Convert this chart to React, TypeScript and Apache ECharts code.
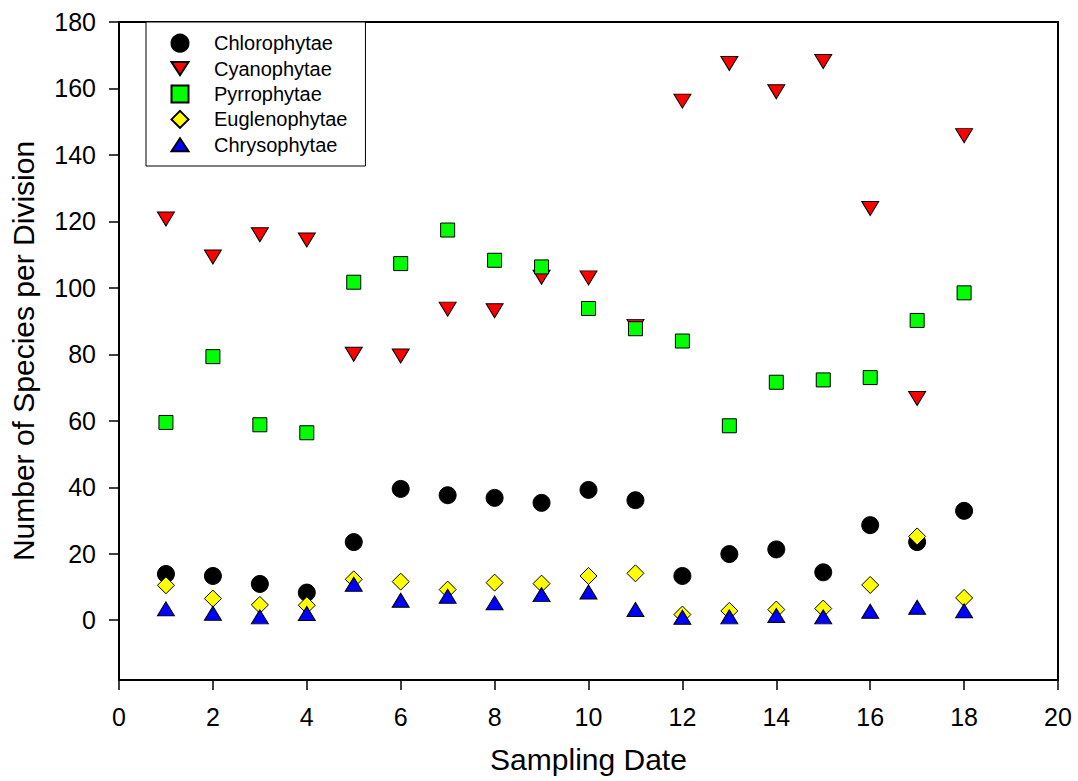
import React, { useEffect, useRef } from "react";
import * as echarts from "echarts";

const samplingDates = [1, 2, 3, 4, 5, 6, 7, 8, 9, 10, 11, 12, 13, 14, 15, 16, 17, 18];
const chlorophytae = [13.9, 13.3, 10.9, 8.3, 23.5, 39.5, 37.6, 36.8, 35.3, 39.2, 36.1, 13.3, 19.9, 21.3, 14.4, 28.6, 23.5, 32.9];
const cyanophytae = [120.7, 109.3, 116.0, 114.4, 80.0, 79.5, 93.6, 93.1, 103.2, 103.0, 88.4, 156.2, 167.5, 159.0, 168.1, 123.9, 66.7, 145.8];
const pyrrophytae = [59.5, 79.3, 58.8, 56.4, 101.7, 107.3, 117.4, 108.3, 106.3, 93.8, 87.7, 84.0, 58.5, 71.6, 72.3, 73.0, 90.2, 98.5];
const euglenophytae = [10.5, 6.5, 4.6, 4.5, 12.3, 11.6, 9.2, 11.3, 11.0, 13.3, 14.1, 1.7, 2.8, 3.2, 3.5, 10.6, 25.2, 6.7];
const chrysophytae = [3.4, 2.1, 1.0, 2.0, 10.8, 6.0, 7.2, 5.2, 7.7, 8.5, 3.2, 0.9, 1.0, 1.4, 1.0, 2.7, 3.9, 2.8];
const yTickValues = [0, 20, 40, 60, 80, 100, 120, 140, 160, 180];

const FONT = "'Liberation Sans', Arial, Helvetica, sans-serif";
const DOWN_TRIANGLE = "path://M0,0L17,0L8.5,13Z";
const UP_TRIANGLE = "path://M8.5,0L17,13L0,13Z";

const pairs = (ys: number[]) => samplingDates.map((x, i) => [x, ys[i]]);

export default function App() {
  const ref = useRef<HTMLDivElement>(null);
  useEffect(() => {
    if (!ref.current) return;
    const chart = echarts.init(ref.current, null, { renderer: "svg" });
    const border = { borderColor: "#000", borderWidth: 1, opacity: 1 };
    chart.setOption({
      animation: false,
      backgroundColor: "#fff",
      grid: {
        left: 119,
        right: 20,
        top: 22,
        bottom: 101,
        show: true,
        borderColor: "#000",
        borderWidth: 2,
        backgroundColor: "transparent",
      },
      legend: {
        orient: "vertical",
        left: 146,
        top: 22,
        padding: [11.2, 18, 11.2, 24.5],
        itemWidth: 17,
        itemHeight: 17,
        itemGap: 5.4,
        symbolKeepAspect: true,
        borderColor: "#000",
        borderWidth: 1,
        backgroundColor: "#fff",
        textStyle: { fontSize: 20, color: "#000", fontFamily: FONT, padding: [0, 0, 0, 20.5] },
        data: [
          { name: "Chlorophytae" },
          { name: "Cyanophytae", icon: DOWN_TRIANGLE },
          { name: "Pyrrophytae" },
          { name: "Euglenophytae" },
          { name: "Chrysophytae", icon: UP_TRIANGLE },
        ],
      },
      xAxis: {
        type: "value",
        min: 0,
        max: 20,
        interval: 2,
        name: "Sampling Date",
        nameLocation: "middle",
        nameGap: 64,
        nameTextStyle: { fontSize: 30, color: "#000", fontFamily: FONT },
        axisLine: { show: true, onZero: false, lineStyle: { color: "#000", width: 2 } },
        axisTick: { show: true, inside: false, length: 10, lineStyle: { color: "#000", width: 1.5 } },
        axisLabel: { fontSize: 25, color: "#000", fontFamily: FONT, margin: 24 },
        splitLine: { show: false },
      },
      yAxis: {
        type: "value",
        min: -18,
        max: 180,
        name: "Number of Species per Division",
        nameLocation: "middle",
        nameGap: 81,
        nameTextStyle: { fontSize: 30, color: "#000", fontFamily: FONT },
        axisLine: { show: true, onZero: false, lineStyle: { color: "#000", width: 2 } },
        axisTick: {
          show: true,
          inside: false,
          length: 10,
          customValues: yTickValues,
          lineStyle: { color: "#000", width: 1.5 },
        },
        axisLabel: {
          fontSize: 25,
          color: "#000",
          fontFamily: FONT,
          margin: 23,
          customValues: yTickValues,
        },
        splitLine: { show: false },
      },
      series: [
        {
          name: "Chlorophytae",
          type: "scatter",
          symbol: "circle",
          symbolSize: 17,
          itemStyle: { color: "#000", ...border },
          data: pairs(chlorophytae),
        },
        {
          name: "Cyanophytae",
          type: "scatter",
          symbol: "triangle",
          symbolRotate: 180,
          symbolSize: [17, 14],
          itemStyle: { color: "#ff0000", ...border },
          data: pairs(cyanophytae),
        },
        {
          name: "Pyrrophytae",
          type: "scatter",
          symbol: "rect",
          symbolSize: 14,
          itemStyle: { color: "#00ff00", ...border },
          data: pairs(pyrrophytae),
        },
        {
          name: "Euglenophytae",
          type: "scatter",
          symbol: "diamond",
          symbolSize: 17,
          itemStyle: { color: "#ffff00", ...border },
          data: pairs(euglenophytae),
        },
        {
          name: "Chrysophytae",
          type: "scatter",
          symbol: "triangle",
          symbolSize: [17, 14],
          itemStyle: { color: "#0000ff", ...border },
          data: pairs(chrysophytae),
        },
      ],
    });
    return () => chart.dispose();
  }, []);
  return (
    <div
      ref={ref}
      style={{ position: "fixed", left: 0, top: 0, width: 1078, height: 781, background: "#fff" }}
    />
  );
}
